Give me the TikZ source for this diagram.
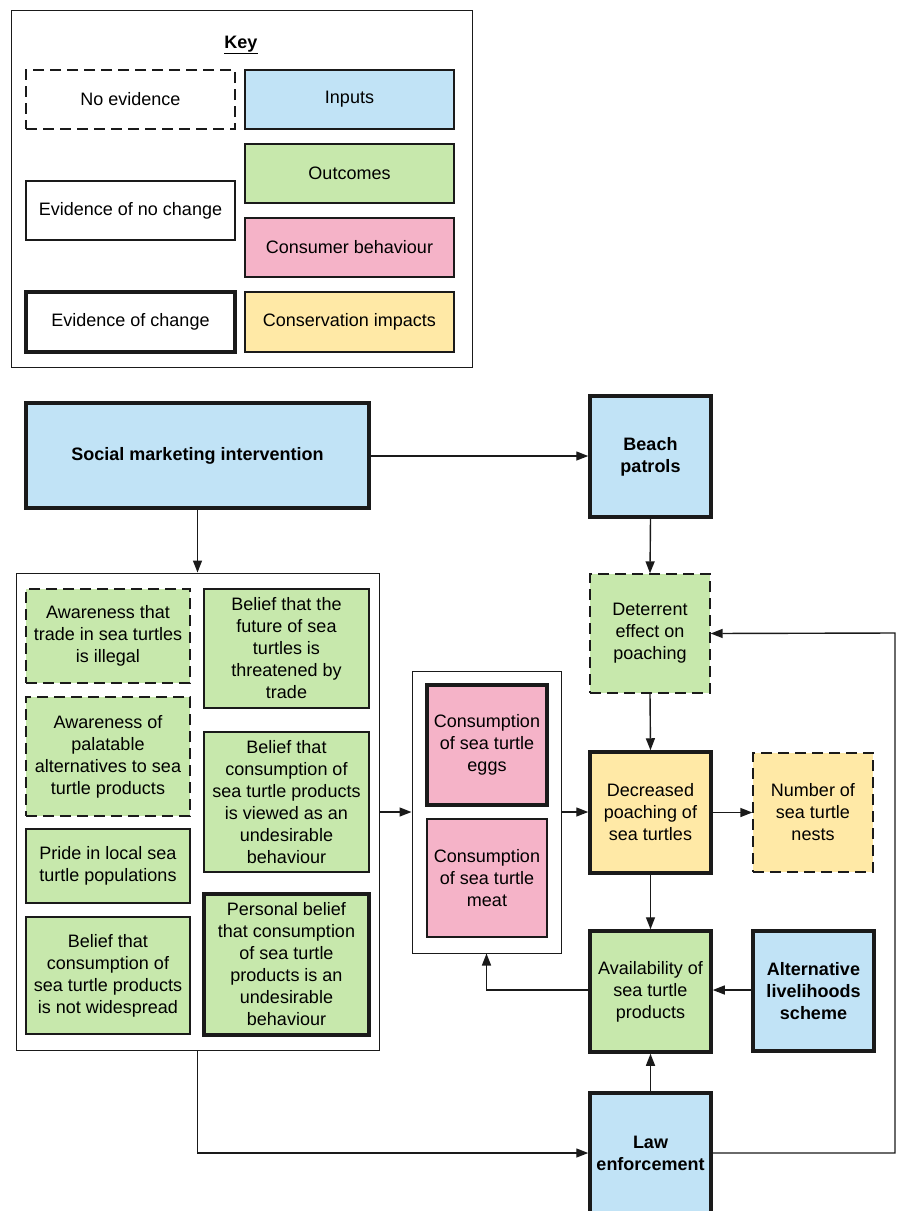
\documentclass[tikz,border=0pt]{standalone}
\usepackage{fontspec}
\setmainfont{Liberation Sans}
\usetikzlibrary{arrows.meta}
\definecolor{cin}{HTML}{C1E3F6}
\definecolor{cout}{HTML}{C7E8AC}
\definecolor{ccons}{HTML}{F5B3C8}
\definecolor{cimp}{HTML}{FFE9A6}
\definecolor{edgec}{HTML}{1A1A1A}
\newcommand\mybox[7]{\node[#1, minimum width={(#5-#3)*1pt}, minimum height={(#6-#4)*1pt}] (#2) at ({(#3+#5)/2},{(#4+#6)/2}) {#7};}
\begin{document}
\begin{tikzpicture}[x=1pt,y=-1pt,
  box/.style={draw=edgec, line width=1.3pt, inner sep=0pt, align=center, font=\fontsize{18}{22}\selectfont},
  nobox/.style={box, dash pattern=on 11pt off 6pt},
  strong/.style={box, line width=3.5pt},
  bold/.style={font=\fontsize{18}{22}\selectfont\bfseries},
  grpbox/.style={draw=edgec, line width=1pt, inner sep=0pt},
  arr/.style={draw=edgec, line width=1.4pt, line join=miter, -{Triangle[length=12pt,width=9pt]}}]
\useasboundingbox (0,0) rectangle (898,1211);
% key
\mybox{grpbox}{key}{11}{10}{472}{367}{}
\node[font=\fontsize{18}{22}\selectfont\bfseries] (keyt) at (241,45) {\underline{Key}};
\mybox{nobox}{k1}{26}{70}{235}{129}{No evidence}
\mybox{box,fill=cin}{k2}{245}{70}{454}{129}{Inputs}
\mybox{box,fill=cout}{k3}{245}{144}{454}{203}{Outcomes}
\mybox{box}{k4}{26}{181}{235}{240}{Evidence of no change}
\mybox{box,fill=ccons}{k5}{245}{218}{454}{277}{Consumer behaviour}
\mybox{strong}{k6}{26}{292}{235}{352}{Evidence of change}
\mybox{box,fill=cimp}{k7}{245}{292}{454}{352}{Conservation impacts}
% main
\mybox{strong,fill=cin,bold}{smi}{26}{403}{369}{508}{Social marketing intervention}
\mybox{strong,fill=cin,bold}{beach}{590}{396}{711}{517}{Beach\\patrols}
\mybox{grpbox}{grp}{16}{573}{379}{1050}{}
\mybox{nobox,fill=cout}{a1}{26}{589}{190}{683}{Awareness that\\trade in sea turtles\\is illegal}
\mybox{box,fill=cout}{b1}{204}{589}{369}{708}{Belief that the\\future of sea\\turtles is\\threatened by\\trade}
\mybox{nobox,fill=cout}{a2}{26}{697}{190}{816}{Awareness of\\palatable\\alternatives to sea\\turtle products}
\mybox{box,fill=cout}{b2}{204}{732}{369}{872}{Belief that\\consumption of\\sea turtle products\\is viewed as an\\undesirable\\behaviour}
\mybox{box,fill=cout}{a3}{26}{829}{190}{903}{Pride in local sea\\turtle populations}
\mybox{box,fill=cout}{a4}{26}{917}{190}{1034}{Belief that\\consumption of\\sea turtle products\\is not widespread}
\mybox{strong,fill=cout}{b3}{204}{894}{369}{1035}{Personal belief\\that consumption\\of sea turtle\\products is an\\undesirable\\behaviour}
\mybox{grpbox}{mid}{412}{671}{561}{953}{}
\mybox{strong,fill=ccons}{eggs}{427}{685}{547}{805}{Consumption\\of sea turtle\\eggs}
\mybox{box,fill=ccons}{meat}{427}{819}{547}{937}{Consumption\\of sea turtle\\meat}
\mybox{nobox,fill=cout}{det}{590}{574}{710}{693}{Deterrent\\effect on\\poaching}
\mybox{strong,fill=cimp}{dec}{590}{752}{711}{873}{Decreased\\poaching of\\sea turtles}
\mybox{nobox,fill=cimp}{nests}{753}{753}{873}{872}{Number of\\sea turtle\\nests}
\mybox{strong,fill=cout}{avail}{590}{931}{711}{1052}{Availability of\\sea turtle\\products}
\mybox{strong,fill=cin,bold}{alt}{753}{931}{874}{1051}{Alternative\\livelihoods\\scheme}
\mybox{strong,fill=cin,bold}{law}{590}{1093}{711}{1213}{Law\\enforcement}
\coordinate (rr) at (895,633);
% connectors
\draw[arr] (smi.east |- 0,456) -- (beach.west |- 0,456);
\draw[arr] (beach.south) -- (det.north);
\draw[arr] (smi.south) -- (grp.north);
\draw[arr] (grp.east |- 0,812) -- (mid.west |- 0,812);
\draw[arr] (mid.east |- 0,812) -- (dec.west |- 0,812);
\draw[arr] (det.south) -- (dec.north);
\draw[arr] (dec.east) -- (nests.west);
\draw[arr] (dec.south) -- (avail.north);
\draw[arr] (alt.west |- 0,990) -- (avail.east |- 0,990);
\draw[arr] (avail.west |- 0,990) -| (mid.south);
\draw[arr] (law.north) -- (avail.south);
\draw[arr] (law.east) -- (law.east -| rr) -- (rr) -- (det.east);
\draw[arr] (grp.south) |- (law.west);
\end{tikzpicture}
\end{document}
